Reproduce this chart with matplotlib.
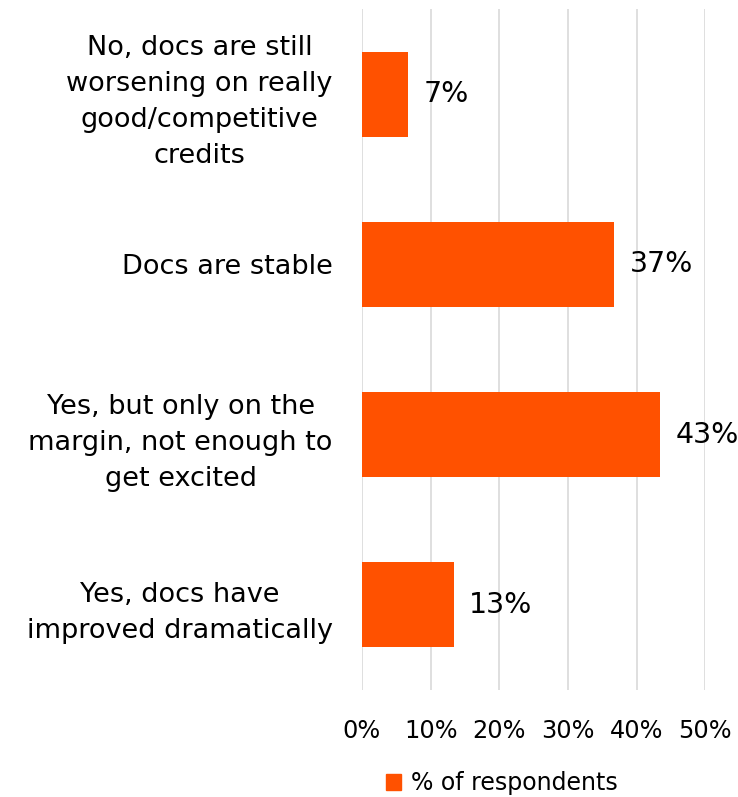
import matplotlib.pyplot as plt
from matplotlib.patches import Patch

# Survey answers, top to bottom
categories = [
    "No, docs are still\nworsening on really\ngood/competitive\ncredits",
    "Docs are stable",
    "Yes, but only on the\nmargin, not enough to\nget excited",
    "Yes, docs have\nimproved dramatically",
]
share = [2 / 30, 11 / 30, 13 / 30, 4 / 30]
xticks = [0, 0.1, 0.2, 0.3, 0.4, 0.5]
series_name = "% of respondents"

bar_color = "#FF5100"
plt.rcParams["font.family"] = "DejaVu Sans"

fig = plt.figure(figsize=(7.38, 7.97), dpi=100)
ax = fig.add_axes([0.4905, 0.1343, 0.4652, 0.8544])

ypos = list(range(len(categories)))
ax.barh(ypos, share, height=0.5, color=bar_color, zorder=3)

for y, v in zip(ypos, share):
    ax.text(v + 0.023, y, f"{v:.0%}", va="center", ha="left", fontsize=20.5, zorder=4)

ax.set_xlim(0, 0.5)
ax.set_ylim(len(categories) - 0.5, -0.5)
ax.set_xticks(xticks)
ax.set_xticklabels([f"{t:.0%}" for t in xticks], fontsize=17.3)
ax.set_yticks(ypos)
ax.set_yticklabels(categories, fontsize=19.5, multialignment="center", linespacing=1.5)

ax.tick_params(axis="x", length=0, pad=21)
ax.tick_params(axis="y", length=0, pad=21)
ax.grid(axis="x", color="#d9d9d9", linewidth=1.2, zorder=0)
for s in ax.spines.values():
    s.set_visible(False)

fig.legend(handles=[Patch(color=bar_color, label=series_name)],
           loc="center", bbox_to_anchor=(0.68, 0.0175), frameon=False,
           fontsize=17, handlelength=0.65, handleheight=0.65, handletextpad=0.4)

fig.savefig("out.png", dpi=100)
